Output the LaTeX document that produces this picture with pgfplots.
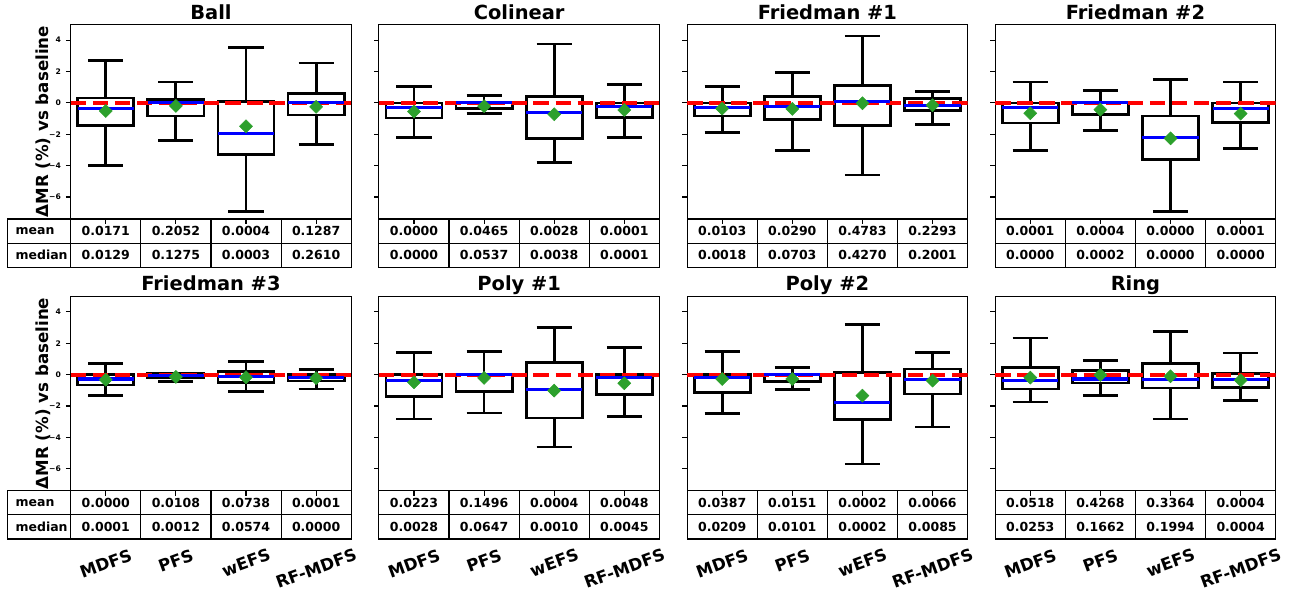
\documentclass[border=0pt]{standalone}
\usepackage{fontspec}
\setmainfont{DejaVu Sans}
\usepackage{pgfplots}
\pgfplotsset{compat=1.18}
\usepgfplotslibrary{statistics}
\definecolor{mgreen}{HTML}{2CA02C}

\pgfplotsset{
 mainax/.style={
  scale only axis, width=201.96pt, height=140.04pt,
  xmin=0.5, xmax=4.5, ymin=-7.4, ymax=5,
  xtick={1,2,3,4}, xticklabels={},
  ytick={-6,-4,-2,0,2,4}, yticklabels={},
  tick align=outside, xtick pos=bottom, ytick pos=left,
  major tick length=3.5pt,
  tick style={black, line width=0.8pt},
  axis line style={line width=0.8pt},
  every axis title/.style={at={(0.5,1)}, anchor=base, yshift=3.9pt, font=\bfseries\fontsize{14}{16}\selectfont},
  anchor=south west,
 },
 ylab/.style={
  yticklabels={−6,−4,−2,0,2,4},
  yticklabel style={font=\bfseries\fontsize{5.5}{6}\selectfont},
  ylabel={ΔMR (\%) vs baseline},
  every axis y label/.style={at={(axis description cs:-0.0988,0.5)}, rotate=90, anchor=center, font=\bfseries\fontsize{12}{14}\selectfont},
 },
 tabax/.style={
  scale only axis, width=201.96pt, height=34.78pt,
  xmin=0.5, xmax=4.5, ymin=0, ymax=2,
  xtick=\empty, ytick=\empty, clip=false, anchor=north west,
  axis line style={line width=0.8pt},
 },
}

\newcommand{\Bbox}[6]{\addplot[black, line width=2pt, boxplot/draw direction=y, boxplot prepared={draw position=#1, lower whisker=#2, lower quartile=#3, median=#4, upper quartile=#5, upper whisker=#6, box extend=0.8, whisker extend=0.5}, boxplot/every median/.style={draw=none}] coordinates {};}
\newcommand{\Bmed}[6]{\addplot[draw=none, boxplot/draw direction=y, boxplot prepared={draw position=#1, lower whisker=#2, lower quartile=#3, median=#4, upper quartile=#5, upper whisker=#6, box extend=0.8, whisker extend=0.5}, boxplot/every box/.style={draw=none}, boxplot/every whisker/.style={draw=none}, boxplot/every median/.style={draw=blue, line width=2.2pt}] coordinates {};}
\newcommand{\zl}{\addplot[red, line width=3pt, dash pattern=on 11.1pt off 4.8pt] coordinates {(0.5,0) (4.5,0)};}
\newcommand{\drawpanel}[1]{\let\B\Bbox #1 \zl \let\B\Bmed #1}
\newcommand{\mn}[4]{\addplot[only marks, mark=square*, mark size=3.3pt, color=mgreen, mark options={rotate=45}] coordinates {(1,#1) (2,#2) (3,#3) (4,#4)};}
\tikzset{tf/.style={font=\bfseries\fontsize{9}{10}\selectfont, inner sep=0pt},
         xl/.style={font=\bfseries\fontsize{12}{14}\selectfont, inner sep=0pt, anchor=center}}
\newcommand{\tbl}[8]{%
 \draw[line width=0.8pt] (axis cs:1.5,0)--(axis cs:1.5,2) (axis cs:2.5,0)--(axis cs:2.5,2) (axis cs:3.5,0)--(axis cs:3.5,2) (axis cs:0.5,1)--(axis cs:4.5,1);
 \node[tf] at (axis cs:1,1.5) {#1}; \node[tf] at (axis cs:2,1.5) {#2};
 \node[tf] at (axis cs:3,1.5) {#3}; \node[tf] at (axis cs:4,1.5) {#4};
 \node[tf] at (axis cs:1,0.5) {#5}; \node[tf] at (axis cs:2,0.5) {#6};
 \node[tf] at (axis cs:3,0.5) {#7}; \node[tf] at (axis cs:4,0.5) {#8};
}
\newcommand{\lab}{%
 \draw[line width=0.8pt] (axis cs:-0.4,0) rectangle (axis cs:0.5,2) (axis cs:-0.4,1)--(axis cs:0.5,1);
 \node[tf, anchor=west] at (axis cs:-0.29,1.5) {mean};
 \node[tf, anchor=west] at (axis cs:-0.29,0.5) {median};
}
\newcommand{\xlabs}{%
 \node[xl, yshift=-17.8pt, rotate=20] at (axis cs:1,0) {MDFS};
 \node[xl, yshift=-15.6pt, rotate=20] at (axis cs:2,0) {PFS};
 \node[xl, yshift=-17.1pt, rotate=20] at (axis cs:3,0) {wEFS};
 \node[xl, yshift=-21.2pt, rotate=20] at (axis cs:4,0) {RF-MDFS};
}

\begin{document}
\begin{tikzpicture}
\useasboundingbox (0,0) rectangle (938.88pt,430.56pt);
% ---------- Ball
\begin{axis}[mainax, ylab, at={(50.90pt,272.88pt)}, title={Ball}]
\drawpanel{\B{1}{-3.98}{-1.45}{-0.36}{0.32}{2.68}\B{2}{-2.38}{-0.83}{0.0}{0.23}{1.34}\B{3}{-6.92}{-3.28}{-1.96}{0.11}{3.55}\B{4}{-2.66}{-0.77}{0.0}{0.6}{2.55}}
\mn{-0.51}{-0.19}{-1.49}{-0.25}
\end{axis}
\begin{axis}[tabax, at={(50.90pt,272.88pt)}]
\lab
\tbl{0.0171}{0.2052}{0.0004}{0.1287}{0.0129}{0.1275}{0.0003}{0.2610}
\end{axis}
% ---------- Colinear
\begin{axis}[mainax, at={(272.81pt,272.88pt)}, title={Colinear}]
\drawpanel{\B{1}{-2.21}{-0.96}{-0.30}{0.0}{1.07}\B{2}{-0.68}{-0.36}{0.0}{0.04}{0.47}\B{3}{-3.81}{-2.26}{-0.64}{0.41}{3.75}\B{4}{-2.21}{-0.94}{-0.25}{0.0}{1.17}}
\mn{-0.55}{-0.21}{-0.72}{-0.45}
\end{axis}
\begin{axis}[tabax, at={(272.81pt,272.88pt)}]
\tbl{0.0000}{0.0465}{0.0028}{0.0001}{0.0000}{0.0537}{0.0038}{0.0001}
\end{axis}
% ---------- Friedman #1
\begin{axis}[mainax, at={(494.71pt,272.88pt)}, title={Friedman \#1}]
\drawpanel{\B{1}{-1.87}{-0.83}{-0.32}{0.0}{1.05}\B{2}{-3.02}{-1.06}{-0.21}{0.43}{1.94}\B{3}{-4.6}{-1.45}{0.11}{1.11}{4.26}\B{4}{-1.36}{-0.47}{-0.15}{0.3}{0.75}}
\mn{-0.36}{-0.38}{-0.02}{-0.15}
\end{axis}
\begin{axis}[tabax, at={(494.71pt,272.88pt)}]
\tbl{0.0103}{0.0290}{0.4783}{0.2293}{0.0018}{0.0703}{0.4270}{0.2001}
\end{axis}
% ---------- Friedman #2
\begin{axis}[mainax, at={(716.54pt,272.88pt)}, title={Friedman \#2}]
\drawpanel{\B{1}{-3.02}{-1.28}{-0.30}{0.0}{1.34}\B{2}{-1.74}{-0.74}{0.0}{0.0}{0.81}\B{3}{-6.92}{-3.62}{-2.19}{-0.83}{1.49}\B{4}{-2.9}{-1.23}{-0.38}{0.0}{1.34}}
\mn{-0.66}{-0.43}{-2.26}{-0.68}
\end{axis}
\begin{axis}[tabax, at={(716.54pt,272.88pt)}]
\tbl{0.0001}{0.0004}{0.0000}{0.0001}{0.0000}{0.0002}{0.0000}{0.0000}
\end{axis}
% ---------- Friedman #3
\begin{axis}[mainax, ylab, at={(50.90pt,77.26pt)}, title={Friedman \#3}]
\drawpanel{\B{1}{-1.34}{-0.66}{-0.28}{0.0}{0.7}\B{2}{-0.42}{-0.2}{-0.05}{0.08}{0.1}\B{3}{-1.1}{-0.49}{-0.1}{0.19}{0.85}\B{4}{-0.91}{-0.4}{-0.17}{0.0}{0.32}}
\mn{-0.32}{-0.15}{-0.17}{-0.23}
\end{axis}
\begin{axis}[tabax, at={(50.90pt,77.26pt)}]
\lab
\tbl{0.0000}{0.0108}{0.0738}{0.0001}{0.0001}{0.0012}{0.0574}{0.0000}
\xlabs
\end{axis}
% ---------- Poly #1
\begin{axis}[mainax, at={(272.81pt,77.26pt)}, title={Poly \#1}]
\drawpanel{\B{1}{-2.83}{-1.4}{-0.36}{0.0}{1.4}\B{2}{-2.45}{-1.06}{0.0}{0.0}{1.47}\B{3}{-4.62}{-2.77}{-0.96}{0.77}{2.98}\B{4}{-2.66}{-1.26}{-0.17}{0.0}{1.74}}
\mn{-0.49}{-0.21}{-1.02}{-0.55}
\end{axis}
\begin{axis}[tabax, at={(272.81pt,77.26pt)}]
\tbl{0.0223}{0.1496}{0.0004}{0.0048}{0.0028}{0.0647}{0.0010}{0.0045}
\xlabs
\end{axis}
% ---------- Poly #2
\begin{axis}[mainax, at={(494.71pt,77.26pt)}, title={Poly \#2}]
\drawpanel{\B{1}{-2.47}{-1.15}{-0.17}{0.0}{1.45}\B{2}{-0.96}{-0.43}{0.0}{0.0}{0.45}\B{3}{-5.7}{-2.87}{-1.79}{0.15}{3.21}\B{4}{-3.34}{-1.23}{-0.32}{0.36}{1.4}}
\mn{-0.28}{-0.28}{-1.34}{-0.38}
\end{axis}
\begin{axis}[tabax, at={(494.71pt,77.26pt)}]
\tbl{0.0387}{0.0151}{0.0002}{0.0066}{0.0209}{0.0101}{0.0002}{0.0085}
\xlabs
\end{axis}
% ---------- Ring
\begin{axis}[mainax, at={(716.54pt,77.26pt)}, title={Ring}]
\drawpanel{\B{1}{-1.74}{-0.91}{-0.36}{0.43}{2.34}\B{2}{-1.34}{-0.53}{-0.28}{0.26}{0.91}\B{3}{-2.83}{-0.85}{-0.32}{0.7}{2.74}\B{4}{-1.66}{-0.83}{-0.32}{0.06}{1.38}}
\mn{-0.19}{-0.02}{-0.11}{-0.36}
\end{axis}
\begin{axis}[tabax, at={(716.54pt,77.26pt)}]
\tbl{0.0518}{0.4268}{0.3364}{0.0004}{0.0253}{0.1662}{0.1994}{0.0004}
\xlabs
\end{axis}
\end{tikzpicture}
\end{document}
